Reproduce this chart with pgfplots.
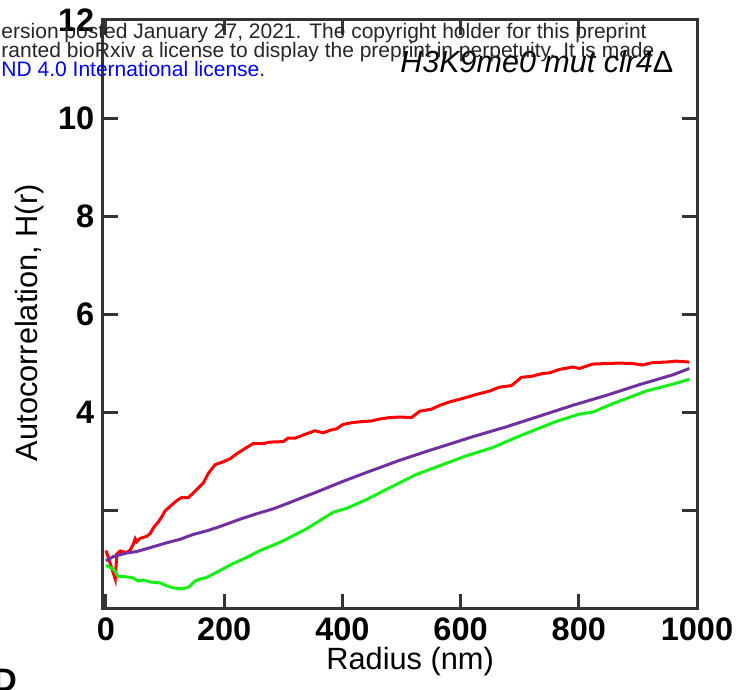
\documentclass[border=0pt]{standalone}
\usepackage{fontspec}
\setmainfont{Liberation Sans}
\usepackage{pgfplots}
\pgfplotsset{compat=1.18}

\definecolor{axgray}{RGB}{51,51,51}
\definecolor{hred}{RGB}{255,0,0}
\definecolor{hpurple}{RGB}{112,48,160}
\definecolor{hgreen}{RGB}{20,240,20}

\begin{document}
\begin{tikzpicture}[x=0.4pt,y=0.4pt]
% page = 747 x 690 px, axis box from (103,609) to (697,20)
\useasboundingbox (-103,-81) rectangle (644,609);
\begin{axis}[
 at={(0,0)}, anchor=south west,
 scale only axis, width=237.6pt, height=235.6pt,
 xmin=-5, xmax=1000, ymin=0, ymax=12,
 xtick={0,200,400,600,800,1000},
 xticklabels={0,200,400,600,800,1000},
 ytick={0,2,4,6,8,10,12},
 yticklabels={,,4,6,8,10,12},
 tick align=inside, major tick length=6pt,
 axis line style={axgray, line width=1.2pt},
 every tick/.style={axgray, line width=1.2pt},
 ticklabel style={font=\bfseries\fontsize{13}{15}\selectfont},
 xlabel={Radius (nm)},
 ylabel={Autocorrelation, H(r)},
 label style={font=\fontsize{12.3}{14}\selectfont},
 xlabel style={at={(axis description cs:0.517,-0.09)}, anchor=center},
 ylabel style={at={(axis description cs:-0.123,0.486)}, anchor=center},
 clip=false,
]
% red
\addplot[hred, line width=1.2pt] coordinates {
 (0,1.19) (8,0.9) (15.7,0.61) (18.4,1.12) (24,1.18) (35,1.15) (41,1.2) (46.6,1.33)
 (49.5,1.43) (52,1.37) (58,1.44) (69,1.48) (75,1.54) (80,1.65) (89,1.78) (94.6,1.88)
 (100,2.0) (108.6,2.09) (120,2.21) (128,2.27) (139.5,2.27) (150,2.39) (159,2.5)
 (165,2.57) (173,2.76) (184.6,2.94) (198.6,3.0) (210,3.06) (221,3.16) (238,3.29)
 (249,3.37) (266,3.37) (277.5,3.40) (300,3.41) (308,3.48) (320,3.48) (339.5,3.57)
 (353.5,3.63) (367.6,3.59) (381.8,3.65) (390,3.67) (401,3.76) (418,3.80) (435,3.82)
 (449,3.83) (463,3.87) (480,3.90) (497,3.91) (517,3.90) (531,4.03) (550.5,4.07)
 (565,4.15) (581.6,4.22) (604,4.29) (626.5,4.37) (649,4.44) (666,4.52) (686,4.55)
 (703,4.72) (720,4.74) (739.5,4.80) (750.5,4.81) (767,4.88) (790,4.93) (801,4.90)
 (823.5,4.99) (846,5.00) (869,5.01) (891,5.00) (908,4.97) (925,5.02) (948,5.03)
 (965,5.05) (987,5.03)};
% purple
\addplot[hpurple, line width=1.2pt] coordinates {
 (0,0.98) (12.8,1.07) (35,1.14) (52,1.17) (75,1.25) (103,1.35) (125.5,1.42)
 (148,1.52) (170,1.59) (193,1.68) (227,1.83) (255,1.94) (283,2.04) (305,2.14)
 (328,2.25) (356,2.38) (401,2.60) (440.5,2.78) (497,3.03) (542,3.21) (581.6,3.36)
 (620.6,3.51) (677,3.71) (733.6,3.93) (790,4.15) (846,4.35) (902.5,4.57)
 (959,4.77) (987,4.90)};
% green
\addplot[hgreen, line width=1.2pt] coordinates {
 (0,0.89) (12.8,0.81) (21,0.66) (30,0.66) (44,0.64) (55,0.57) (63.5,0.59) (75,0.55)
 (92,0.53) (103,0.47) (114,0.43) (128,0.41) (139.5,0.44) (151,0.57) (159,0.61)
 (170,0.64) (187.5,0.75) (216,0.93) (238,1.05) (260.6,1.19) (283,1.30) (300,1.39)
 (339,1.63) (384.5,1.97) (407,2.05) (441,2.23) (480,2.47) (525,2.74) (565,2.92)
 (609.5,3.12) (654.5,3.29) (705,3.55) (761.6,3.82) (801,3.97) (823.5,4.01)
 (857,4.18) (914,4.44) (959,4.58) (987,4.68)};
\node[anchor=east, font=\itshape\fontsize{12.2}{14}\selectfont]
 at (rel axis cs:0.975,0.93) {H3K9me0 mut clr4\textup{Δ}};
\end{axis}
% preprint notice overlapping the panel
\begin{scope}[font=\fontsize{8.4}{10}\selectfont, text=black!85]
\node[anchor=base west, inner sep=0pt] at (-102,570) {ersion posted January 27, 2021. The copyright holder for this preprint};
\node[anchor=base west, inner sep=0pt] at (-102,551) {ranted bioRxiv a license to display the preprint in perpetuity. It is made};
\node[anchor=base west, inner sep=0pt] at (-102,532) {\textcolor{blue}{ND 4.0 International license}.};
\end{scope}
\node[font=\bfseries\fontsize{13}{15}\selectfont] at (-98,-71) {D};
\end{tikzpicture}
\end{document}
